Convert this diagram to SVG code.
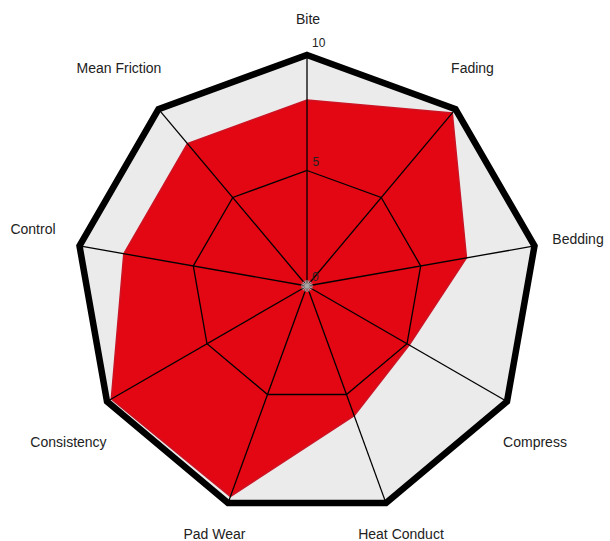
<svg xmlns="http://www.w3.org/2000/svg" width="610" height="541" viewBox="0 0 610 541">
<style>
.lbl{font-family:"Liberation Sans",Arial,sans-serif;font-size:14px;fill:#222;text-anchor:middle}
.tick{font-family:"Liberation Sans",Arial,sans-serif;font-size:12px;fill:#222}
.ax{stroke:#000;stroke-width:1.3;fill:none}
.hub{stroke:#a8a8a8;stroke-width:1.1}
</style>
<rect width="610" height="541" fill="#fff"/>
<g id="background">
<polygon points="307,55 455.5,109.1 534.5,245.9 507,401.5 386,503.1 228,503.1 107,401.5 79.5,245.9 158.5,109.1" fill="#ebebeb"/>
</g>
<g id="data">
<polygon points="307,100 452.3,112.9 466.5,257.9 409.2,345 354.2,415.7 230.4,496.5 111.3,399 123.8,253.7 187.4,143.5" fill="#e30613" stroke="#cc1424" stroke-width="1.5" stroke-linejoin="miter"/>
</g>
<g id="grid">
<polygon class="ax" points="307,170.5 381.2,197.5 420.7,265.9 407,343.75 346.5,394.5 267.5,394.5 207,343.75 193.3,265.9 232.8,197.5"/>
</g>
<g id="axes">
<line class="ax" x1="307" y1="286" x2="307" y2="55"/>
<line class="ax" x1="307" y1="286" x2="455.5" y2="109.1"/>
<line class="ax" x1="307" y1="286" x2="534.5" y2="245.9"/>
<line class="ax" x1="307" y1="286" x2="507" y2="401.5"/>
<line class="ax" x1="307" y1="286" x2="386" y2="503.1"/>
<line class="ax" x1="307" y1="286" x2="228" y2="503.1"/>
<line class="ax" x1="307" y1="286" x2="107" y2="401.5"/>
<line class="ax" x1="307" y1="286" x2="79.5" y2="245.9"/>
<line class="ax" x1="307" y1="286" x2="158.5" y2="109.1"/>
</g>
<g id="hub">
<line class="hub" x1="301" y1="286" x2="313" y2="286"/>
<line class="hub" x1="307" y1="280" x2="307" y2="292"/>
<line class="hub" x1="302.8" y1="281.8" x2="311.2" y2="290.2"/>
<line class="hub" x1="302.8" y1="290.2" x2="311.2" y2="281.8"/>
<line class="hub" x1="301.5" y1="283.8" x2="312.5" y2="288.2"/>
<line class="hub" x1="301.5" y1="288.2" x2="312.5" y2="283.8"/>
<line class="hub" x1="304.8" y1="280.5" x2="309.2" y2="291.5"/>
<line class="hub" x1="309.2" y1="280.5" x2="304.8" y2="291.5"/>
</g>
<g id="border">
<polygon points="307,55 455.5,109.1 534.5,245.9 507,401.5 386,503.1 228,503.1 107,401.5 79.5,245.9 158.5,109.1" fill="none" stroke="#000" stroke-width="6.5" stroke-linejoin="miter"/>
</g>
<g id="scale">
<text class="tick" x="312" y="47">10</text>
<text class="tick" x="312.5" y="165.5">5</text>
<text class="tick" x="312" y="281">0</text>
</g>
<g id="labels">
<text class="lbl" x="308" y="24">Bite</text>
<text class="lbl" x="472.5" y="73">Fading</text>
<text class="lbl" x="578" y="244">Bedding</text>
<text class="lbl" x="535" y="447">Compress</text>
<text class="lbl" x="401" y="538.5">Heat Conduct</text>
<text class="lbl" x="214.5" y="538.5">Pad Wear</text>
<text class="lbl" x="68.5" y="447">Consistency</text>
<text class="lbl" x="33" y="234">Control</text>
<text class="lbl" x="119" y="73">Mean Friction</text>
</g>
</svg>
